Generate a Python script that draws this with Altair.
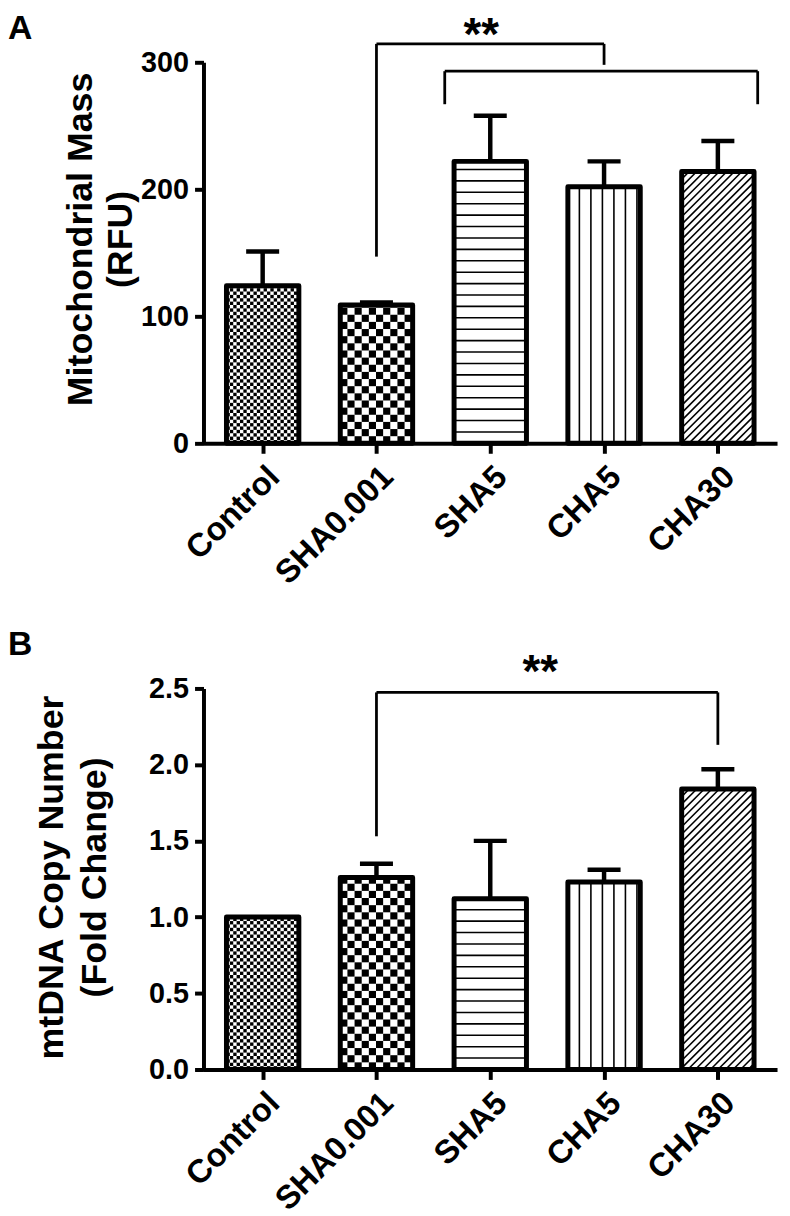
import json
import math
import altair as alt
import pandas as pd

# ---------------- data ----------------
categories = ["Control", "SHA0.001", "SHA5", "CHA5", "CHA30"]
mass_mean = [124, 109, 222, 202, 214]
mass_sem = [27, 2, 36, 20, 24]
copy_mean = [1.00, 1.26, 1.12, 1.23, 1.84]
copy_sem = [0.0, 0.09, 0.38, 0.08, 0.13]
patterns = ["fine_check", "coarse_check", "hlines", "vlines", "diag"]

mass_ticks = [0, 100, 200, 300]
copy_ticks = [0, 0.5, 1.0, 1.5, 2.0, 2.5]

# significance brackets: (x_left, x_right, y_top, y_left_end, y_right_end)
mass_brackets = [(1, 3, 314.5, 147, 298), (1.6, 4.35, 293, 267, 267)]
mass_stars = [(1.92, 337.5)]
copy_brackets = [(1, 4, 2.474, 1.53, 2.13)]
copy_stars = [(2.44, 2.745)]

# ---------------- layout constants ----------------
W, H = 578, 384
XDOM = [-0.52, 4.52]
HALF = 0.318
CAP = 0.145
FONT = "Liberation Sans"


def pattern_tables(means, ymax):
    pxx = W / (XDOM[1] - XDOM[0])
    pxy = H / ymax
    rects, lines = [], []
    for i, (m, p) in enumerate(zip(means, patterns)):
        left = i - HALF
        bw = 2 * HALF * pxx
        hp = m * pxy
        if p in ("fine_check", "coarse_check"):
            c = 3.4 if p == "fine_check" else 7.2
            nx = math.ceil(bw / c)
            ny = math.ceil(hp / c)
            for a in range(nx):
                for b in range(ny):
                    if (a + b) % 2 == 0:
                        x0, x1 = a * c, min((a + 1) * c, bw)
                        y0, y1 = b * c, min((b + 1) * c, hp)
                        rects.append(dict(x=left + x0 / pxx, x2=left + x1 / pxx,
                                          y=y0 / pxy, y2=y1 / pxy))
        elif p == "hlines":
            s = 11.5
            k = 1
            while k * s < hp - 2:
                yy = k * s / pxy
                lines.append(dict(x=left, x2=left + bw / pxx, y=yy, y2=yy))
                k += 1
        elif p == "vlines":
            s = 11.6
            k = 1
            while k * s < bw - 2:
                xx = left + k * s / pxx
                lines.append(dict(x=xx, x2=xx, y=0, y2=m))
                k += 1
        elif p == "diag":
            s = 7.6
            c = -hp
            while c < bw:
                xs = max(0.0, c)
                xe = min(bw, hp + c)
                if xe - xs > 0.5:
                    lines.append(dict(x=left + xs / pxx, x2=left + xe / pxx,
                                      y=(xs - c) / pxy, y2=(xe - c) / pxy))
                c += s
    return pd.DataFrame(rects), pd.DataFrame(lines)


def panel(means, sems, ymax, ticks, fmt, title, title_x, title_y, title_lh,
          brackets, stars, letter, letter_y):
    label_expr = json.dumps(categories) + "[datum.value]"
    xaxis = alt.Axis(values=[0, 1, 2, 3, 4], labelExpr=label_expr, title=None,
                     grid=False, labelAngle=315, labelAlign="right",
                     labelBaseline="top", labelFontSize=33, labelFontWeight="bold",
                     labelColor="black", labelPadding=7, domainWidth=4,
                     domainColor="black", tickWidth=4, tickSize=10,
                     tickColor="black", labelOverlap=False, labelBound=False,
                     labelFlush=False)
    yaxis = alt.Axis(values=ticks, format=fmt, title=title, grid=False,
                     domainWidth=4, domainColor="black", tickWidth=4, tickSize=9,
                     tickColor="black", labelFontSize=29, labelFontWeight="bold",
                     labelColor="black", labelPadding=6, titleFontSize=36,
                     titleFontWeight="bold", titleColor="black",
                     titleLineHeight=title_lh, titleX=title_x, titleY=title_y,
                     titleAlign="center", titleBaseline="middle",
                     labelFlush=False)

    def X():
        return alt.X("x:Q", scale=alt.Scale(domain=XDOM, nice=False, zero=False),
                     axis=xaxis)

    def Y():
        return alt.Y("y:Q", scale=alt.Scale(domain=[0, ymax], nice=False, zero=True),
                     axis=yaxis)

    rects, lines = pattern_tables(means, ymax)

    bars = pd.DataFrame({"x": [i - HALF for i in range(5)],
                         "x2": [i + HALF for i in range(5)],
                         "y": [0] * 5, "y2": means})

    err_rows = []
    for i, (m, s) in enumerate(zip(means, sems)):
        if s > 0:
            err_rows.append(dict(x=i, x2=i, y=m, y2=m + s))
            err_rows.append(dict(x=i - CAP, x2=i + CAP, y=m + s, y2=m + s))
    errs = pd.DataFrame(err_rows)

    br_rows = []
    for (xl, xr, yt, yl, yr) in brackets:
        br_rows.append(dict(x=xl, x2=xl, y=yl, y2=yt))
        br_rows.append(dict(x=xl, x2=xr, y=yt, y2=yt))
        br_rows.append(dict(x=xr, x2=xr, y=yt, y2=yr))
    brs = pd.DataFrame(br_rows)

    star_df = pd.DataFrame({"x": [s[0] for s in stars], "y": [s[1] for s in stars]})

    l_rects = alt.Chart(rects).mark_rect(color="black", strokeWidth=0).encode(
        x=X(), x2=alt.X2("x2"), y=Y(), y2=alt.Y2("y2"))
    l_lines = alt.Chart(lines).mark_rule(color="black", strokeWidth=1.6).encode(
        x=X(), x2=alt.X2("x2"), y=Y(), y2=alt.Y2("y2"))
    l_err = alt.Chart(errs).mark_rule(color="black", strokeWidth=4.5).encode(
        x=X(), x2=alt.X2("x2"), y=Y(), y2=alt.Y2("y2"))
    l_bars = alt.Chart(bars).mark_rect(filled=False, color="black", stroke="black",
                                       strokeWidth=5, strokeJoin="round").encode(
        x=X(), x2=alt.X2("x2"), y=Y(), y2=alt.Y2("y2"))
    l_br = alt.Chart(brs).mark_rule(color="black", strokeWidth=2.8).encode(
        x=X(), x2=alt.X2("x2"), y=Y(), y2=alt.Y2("y2"))
    l_star = alt.Chart(star_df).mark_text(text="**", fontSize=46, fontWeight="bold",
                                          color="black", align="center",
                                          baseline="top").encode(x=X(), y=Y())
    l_letter = alt.Chart(pd.DataFrame({"t": [letter]})).mark_text(
        align="left", baseline="top", fontSize=34, fontWeight="bold",
        color="black").encode(text="t:N", x=alt.value(-197), y=alt.value(letter_y))

    return alt.layer(l_rects, l_lines, l_err, l_bars, l_br, l_star, l_letter).properties(
        width=W, height=H)


panel_a = panel(mass_mean, mass_sem, 300, mass_ticks, "d",
                ["Mitochondrial Mass", "(RFU)"], -124, 178, 40,
                mass_brackets, mass_stars, "A", -50)
panel_b = panel(copy_mean, copy_sem, 2.5, copy_ticks, ".1f",
                ["mtDNA Copy Number", "(Fold Change)"], -153, 190, 43,
                copy_brackets, copy_stars, "B", -61)

chart = alt.vconcat(panel_a, panel_b, spacing=247, bounds="flush").properties(
    padding={"left": 0, "top": 0, "right": 5, "bottom": 5}
).configure(font=FONT).configure_view(stroke=None)

chart.save("out.html", embed_options={"renderer": "svg", "actions": False})
